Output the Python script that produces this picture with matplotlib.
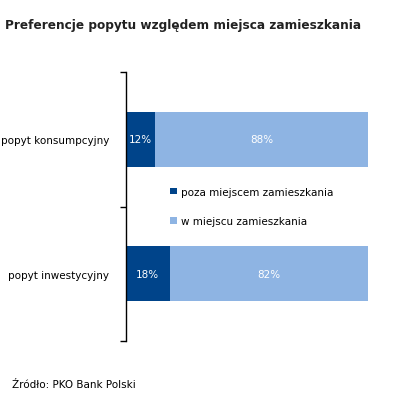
import matplotlib
matplotlib.use("Agg")
import matplotlib.pyplot as plt

# dane
kategorie = ["popyt konsumpcyjny", "popyt inwestycyjny"]
poza = [12, 18]
w_miejscu = [88, 82]
serie = ["poza miejscem zamieszkania", "w miejscu zamieszkania"]
kolory = ["#00448A", "#8EB4E3"]

plt.rcParams['font.family'] = ['DejaVu Sans']

fig = plt.figure(figsize=(3.95, 4.02), dpi=100)
ax = fig.add_axes([126 / 395, 1 - 342 / 402, (368 - 126) / 395, (342 - 73) / 402])

y = list(range(len(kategorie)))
ax.barh(y, poza, height=0.41, color=kolory[0], label=serie[0])
ax.barh(y, w_miejscu, left=poza, height=0.41, color=kolory[1], label=serie[1])

for i in y:
    ax.text(poza[i] / 2, i, "%d%%" % poza[i], ha='center', va='center', color='white', fontsize=7.5)
    ax.text(poza[i] + w_miejscu[i] / 2, i, "%d%%" % w_miejscu[i], ha='center', va='center',
            color='white', fontsize=7.5)

ax.set_xlim(0, 100)
ax.set_ylim(1.5, -0.5)
ax.set_yticks([-0.5, 0.5, 1.5])
ax.set_yticklabels([])
ax.set_yticks(y, minor=True)
ax.set_yticklabels(kategorie, minor=True, fontsize=7.5)
ax.tick_params(axis='y', which='minor', length=0, pad=12)
ax.tick_params(axis='y', which='major', length=4, width=1)
ax.set_xticks([])
for s in ['top', 'right', 'bottom']:
    ax.spines[s].set_visible(False)
ax.spines['left'].set_linewidth(1)

ax.legend(loc='center', bbox_to_anchor=(0.52, 0.50), frameon=False, fontsize=7.5,
          handlelength=0.6, handleheight=0.6, labelspacing=1.9, handletextpad=0.4)

fig.text(5 / 395, 1 - 25 / 402, "Preferencje popytu względem miejsca zamieszkania",
         fontsize=8.7, fontweight='bold', va='center', ha='left', color='#222222')
fig.text(12 / 395, 1 - 385 / 402, "Źródło: PKO Bank Polski", fontsize=7.5, va='center', ha='left')

fig.savefig("out.png", dpi=100)
